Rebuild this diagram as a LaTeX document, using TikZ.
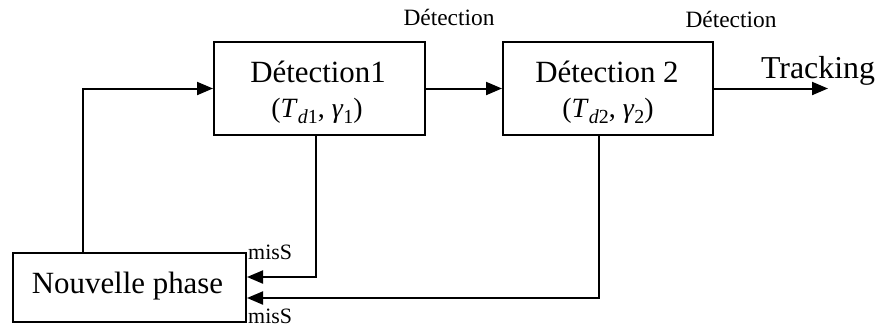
\documentclass[tikz,border=0pt]{standalone}
\usepackage{fontspec}
\setmainfont{Liberation Serif}
\usetikzlibrary{arrows.meta}

% subscript helper: italic letter plus upright digit, lowered
\newcommand{\lowsub}[1]{\raisebox{-0.22em}{\fontsize{20}{20}\selectfont #1}}

\begin{document}
\begin{tikzpicture}[x=1bp,y=-1bp,
  blockbox/.style={draw, line width=2bp, inner sep=0pt},
  flow/.style={line width=2bp, -{Triangle[length=16bp,width=13bp]}},
  bigtxt/.style={inner sep=0pt, anchor=base, font=\fontsize{31}{37}\selectfont},
  midtxt/.style={inner sep=0pt, anchor=base, font=\fontsize{28}{34}\selectfont},
  smalltxt/.style={inner sep=0pt, anchor=base, font=\fontsize{23.5}{28}\selectfont},
  tagtxt/.style={inner sep=0pt, anchor=base west, font=\fontsize{22}{26}\selectfont}]

\useasboundingbox (0,0) rectangle (880,327);

% processing blocks
\node[blockbox, minimum width=211bp, minimum height=93bp] (d1) at (319.5,88.5) {};
\node[blockbox, minimum width=210bp, minimum height=93bp] (d2) at (608,88.5) {};
\node[blockbox, minimum width=233bp, minimum height=69bp] (np) at (129.5,287.5) {};

% block contents
\node[bigtxt] (d1title) at (318,82) {Détection1};
\node[midtxt] (d1par) at (317,117) {(\textit{T}\lowsub{\textit{d}1}, \textit{γ}\lowsub{1})};
\node[bigtxt] (d2title) at (607,82) {Détection 2};
\node[midtxt] (d2par) at (608,117) {(\textit{T}\lowsub{\textit{d}2}, \textit{γ}\lowsub{2})};
\node[bigtxt] (nptitle) at (127.5,293) {Nouvelle phase};

% flow labels
\node[smalltxt] (lab1) at (449,25) {Détection};
\node[smalltxt] (lab2) at (731,27) {Détection};
\node[bigtxt, font=\fontsize{32}{38}\selectfont] (trklab) at (818,78) {Tracking};
\node[tagtxt] (miss1) at (248,259) {misS};
\node[tagtxt] (miss2) at (248,323.5) {misS};

% connectors
\coordinate (trk) at (828,88.5);
\draw[flow] (np.north -| 83,0) |- (d1.west);
\draw[flow] (d1.east) -- (d2.west);
\draw[flow] (d2.east) -- (trk);
\draw[flow] (d1.south -| 316,0) |- (np.east |- 0,277);
\draw[flow] (d2.south -| 599,0) |- (np.east |- 0,298);
\end{tikzpicture}
\end{document}
